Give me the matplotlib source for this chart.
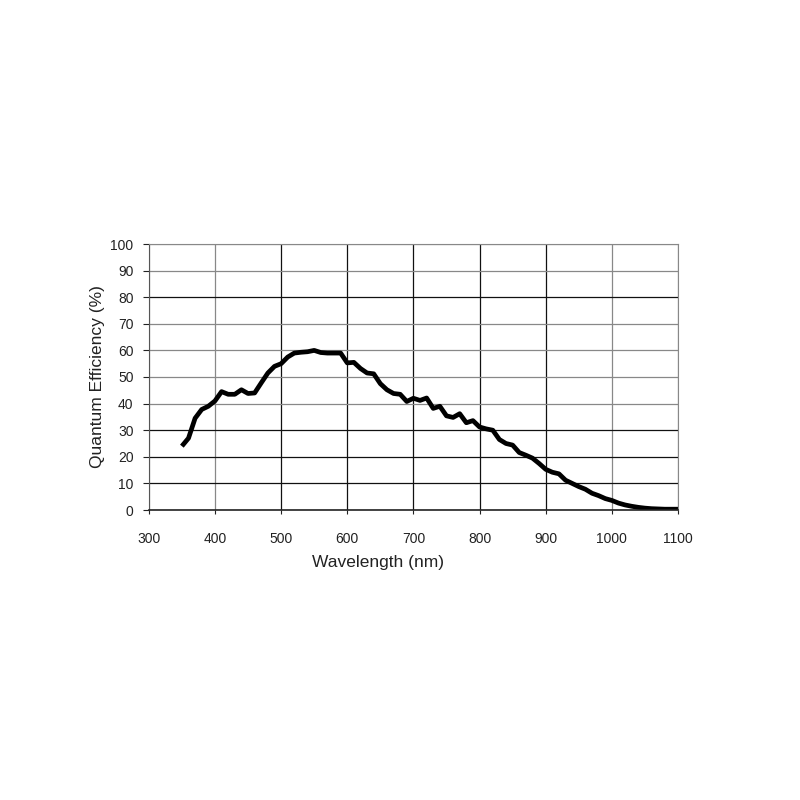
import matplotlib.pyplot as plt
import numpy as np

plt.rcParams['font.family'] = ['Liberation Sans', 'DejaVu Sans']

# wavelength (nm) every 10 nm and quantum efficiency (%)
wavelength = np.arange(350, 1101, 10)
qe = [24, 27, 34.5, 37.8, 39, 41, 44.5, 43.5, 43.5, 45.2,
      43.8, 44, 47.8, 51.5, 54, 55, 57.5, 59, 59.3, 59.5,
      60, 59.2, 59, 59, 59, 55.3, 55.5, 53.2, 51.5, 51.2,
      47.5, 45.2, 43.8, 43.5, 40.8, 42, 41.2, 42.1, 38.2, 39,
      35.4, 34.8, 36.2, 32.8, 33.6, 31.2, 30.5, 30, 26.5, 25,
      24.4, 21.6, 20.6, 19.5, 17.5, 15.3, 14.2, 13.6, 11.2, 10,
      8.8, 7.8, 6.3, 5.4, 4.3, 3.6, 2.6, 1.9, 1.4, 1.0,
      0.7, 0.5, 0.4, 0.3, 0.3, 0.3]

xticks = np.arange(300, 1101, 100)
yticks = np.arange(0, 101, 10)

# scanned grid: some lines darker than others
xgrid_dark = [False, False, True, True, True, True, True, False, False]
ygrid_dark = [False, True, True, True, False, False, False, False, True, False, False]

fig = plt.figure(figsize=(8, 8), dpi=100)
ax = fig.add_axes([0.186, 0.3625, 0.6615, 0.3325])

ax.plot(wavelength, qe, color='black', linewidth=3.4, solid_joinstyle='round',
        solid_capstyle='butt')

ax.set_xlim(300, 1100)
ax.set_ylim(0, 100)
ax.set_xticks(xticks)
ax.set_yticks(yticks)
ax.tick_params(axis='x', direction='out', length=3, pad=13, labelsize=10, colors='#222222')
ax.tick_params(axis='y', direction='out', length=4, pad=7, labelsize=10, colors='#222222')

ax.grid(True, linewidth=0.9)
for line, dark in zip(ax.get_xgridlines(), xgrid_dark):
    line.set_color('#111111' if dark else '#888888')
for line, dark in zip(ax.get_ygridlines(), ygrid_dark):
    line.set_color('#111111' if dark else '#888888')

for side in ['top', 'right']:
    ax.spines[side].set_color('#888888')
ax.spines['left'].set_color('#555555')
ax.spines['bottom'].set_color('#222222')
ax.spines['bottom'].set_linewidth(1.2)

ax.set_xlabel('Wavelength (nm)', fontsize=12.5, color='#222222')
ax.xaxis.set_label_coords(0.433, -0.17)
ax.set_ylabel('Quantum Efficiency (%)', fontsize=12.5, color='#222222', labelpad=4)

fig.savefig('out.png', dpi=100)
